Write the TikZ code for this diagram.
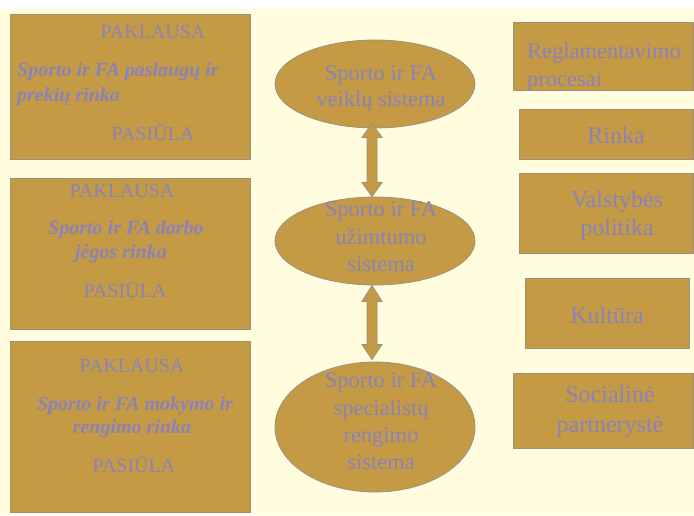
\documentclass[tikz,border=0pt]{standalone}
\usepackage{fontspec}
\setmainfont{Liberation Serif}
\usetikzlibrary{shapes.geometric,calc}
\definecolor{bg}{HTML}{FFFDDE}
\definecolor{gold}{HTML}{C49A45}
\definecolor{edgec}{HTML}{9C9080}
\definecolor{txt}{HTML}{8A82B8}
\begin{document}
\begin{tikzpicture}[x=1pt,y=-1pt,
  box/.style={draw=edgec, line width=0.8pt, fill=gold, rectangle, inner sep=0pt},
  oval/.style={draw=edgec, line width=0.8pt, fill=gold, ellipse, inner sep=0pt},
  blk/.style={draw=edgec, line width=0.8pt, fill=gold, line join=miter},
  lbl/.style={text=txt, inner sep=0pt, anchor=base},
  lblw/.style={text=txt, inner sep=0pt, anchor=base west},
  fl/.style={font=\fontsize{20pt}{24pt}\selectfont},
  fli/.style={font=\fontsize{20pt}{24pt}\selectfont\bfseries\itshape},
  fe/.style={font=\fontsize{22.5pt}{27pt}\selectfont},
  fr/.style={font=\fontsize{24pt}{29pt}\selectfont}]
\fill[bg] (0,0) rectangle (694,515);
\fill[white] (0,0) rectangle (694,9);
\useasboundingbox (0,0) rectangle (694,515);

% left boxes
\node[box, minimum width=240pt, minimum height=145pt] (L1) at (130,86.5) {};
\node[box, minimum width=240pt, minimum height=151pt] (L2) at (130,253.5) {};
\node[box, minimum width=240pt, minimum height=171pt] (L3) at (130,426.5) {};

\node[lbl, fl] (L1a) at (153,38.5) {PAKLAUSA};
\node[lblw, fli] (L1b) at (17,76) {Sporto ir FA paslaugų ir};
\node[lblw, fli] (L1c) at (17,101) {prekių rinka};
\node[lbl, fl] (L1d) at (153,140) {PASIŪLA};

\node[lbl, fl] (L2a) at (122,197) {PAKLAUSA};
\node[lbl, fli] (L2b) at (126,234) {Sporto ir FA darbo};
\node[lbl, fli] (L2c) at (121,258) {jėgos rinka};
\node[lbl, fl] (L2d) at (125,297) {PASIŪLA};

\node[lbl, fl] (L3a) at (132,372) {PAKLAUSA};
\node[lbl, fli] (L3b) at (135,410) {Sporto ir FA mokymo ir};
\node[lbl, fli] (L3c) at (132,433) {rengimo rinka};
\node[lbl, fl] (L3d) at (134,472) {PASIŪLA};

% ellipses
\node[oval, minimum width=200pt, minimum height=88pt] (E1) at (375,84) {};
\node[oval, minimum width=200pt, minimum height=88pt] (E2) at (375,241) {};
\node[oval, minimum width=200pt, minimum height=130pt] (E3) at (375,427) {};

\node[lbl, fe] (E1a) at (381,80) {Sporto ir FA};
\node[lbl, fe] (E1b) at (381,106) {veiklų sistema};
\node[lbl, fe] (E2a) at (381,216) {Sporto ir FA};
\node[lbl, fe] (E2b) at (381,244) {užimtumo};
\node[lbl, fe] (E2c) at (381,271) {sistema};
\node[lbl, fe] (E3a) at (381,387) {Sporto ir FA};
\node[lbl, fe] (E3b) at (381,415) {specialistų};
\node[lbl, fe] (E3c) at (381,442) {rengimo};
\node[lbl, fe] (E3d) at (381,469) {sistema};

% double block arrows
\coordinate (a1t) at ($(E1.south)+(-3,-5)$);
\coordinate (a1b) at ($(E2.north)+(-3,0)$);
\draw[blk] (a1t) -- ($(a1t)+(10,14)$) -- ($(a1t)+(5,14)$) -- ($(a1b)+(5,-14)$)
  -- ($(a1b)+(10,-14)$) -- (a1b) -- ($(a1b)+(-10,-14)$) -- ($(a1b)+(-5,-14)$)
  -- ($(a1t)+(-5,14)$) -- ($(a1t)+(-10,14)$) -- cycle;
\coordinate (a2t) at ($(E2.south)+(-3,0)$);
\coordinate (a2b) at ($(E3.north)+(-3,-2)$);
\draw[blk] (a2t) -- ($(a2t)+(10,16)$) -- ($(a2t)+(5,16)$) -- ($(a2b)+(5,-15)$)
  -- ($(a2b)+(10,-15)$) -- (a2b) -- ($(a2b)+(-10,-15)$) -- ($(a2b)+(-5,-15)$)
  -- ($(a2t)+(-5,16)$) -- ($(a2t)+(-10,16)$) -- cycle;

% right boxes
\node[box, minimum width=180pt, minimum height=68pt] (R1) at (603,56) {};
\node[box, minimum width=174pt, minimum height=50pt] (R2) at (606,134) {};
\node[box, minimum width=174pt, minimum height=80pt] (R3) at (606,213) {};
\node[box, minimum width=164pt, minimum height=70pt] (R4) at (607,313) {};
\node[box, minimum width=180pt, minimum height=75pt] (R5) at (603,410.5) {};

\node[lblw, font=\fontsize{22.5pt}{27pt}\selectfont] (R1a) at (527,58) {Reglamentavimo};
\node[lblw, font=\fontsize{22.5pt}{27pt}\selectfont] (R1b) at (527,86) {procesai};
\node[lbl, fr] (R2a) at (616,143) {Rinka};
\node[lbl, fr] (R3a) at (617,207) {Valstybės};
\node[lbl, fr] (R3b) at (617,235) {politika};
\node[lbl, fr] (R4a) at (607,323) {Kultūra};
\node[lbl, fr] (R5a) at (610,402) {Socialinė};
\node[lbl, fr] (R5b) at (610,432) {partnerystė};
\end{tikzpicture}
\end{document}
